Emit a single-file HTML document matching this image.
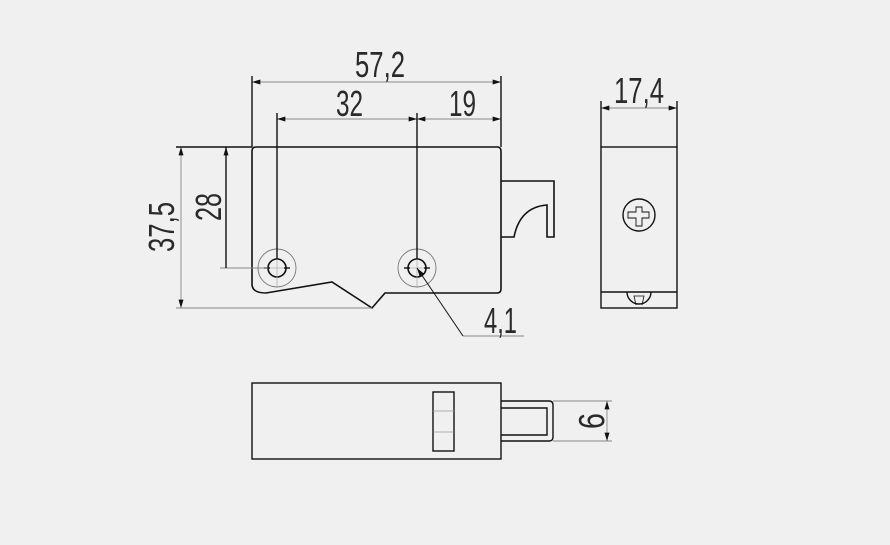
<!DOCTYPE html>
<html><head><meta charset="utf-8"><style>
html,body{margin:0;padding:0;background:#f0f0f0;}
svg{display:block;}
text{font-family:"Liberation Sans",sans-serif;fill:#2a2a2a;font-size:36px;}
</style></head><body>
<svg width="890" height="545" viewBox="0 0 890 545" xmlns="http://www.w3.org/2000/svg">
<defs>
<marker id="a" viewBox="0 0 10 6" refX="10" refY="3" markerWidth="12" markerHeight="5" orient="auto-start-reverse" markerUnits="userSpaceOnUse"><path d="M0,0L10,3L0,6z" fill="#111"/></marker>
</defs>
<g fill="none" stroke="#111" stroke-width="1.6">
<path d="M256,147 H497 Q501,147 501,151 V289 Q501,293 497,293 H385 L372,308 L332,282 L266,293 Q252,293 252,284 V151 Q252,147 256,147 Z"/>
<path d="M501,181 H554 V237 H547 V205 Q520,207 514,237 H501"/>
<circle cx="277" cy="268" r="9"/>
<circle cx="417" cy="268" r="9"/>
</g>
<g fill="none" stroke="#777" stroke-width="0.9">
<circle cx="277" cy="268" r="19"/>
<circle cx="417" cy="268" r="19"/>
</g>
<g stroke="#111" stroke-width="1.4">
<line x1="264" y1="268" x2="270" y2="268"/><line x1="284" y1="268" x2="290" y2="268"/>
<line x1="404" y1="268" x2="410" y2="268"/><line x1="424" y1="268" x2="430" y2="268"/>
</g>
<g stroke="#aaa" stroke-width="0.7">
<line x1="277" y1="259" x2="277" y2="287"/><line x1="270" y1="268" x2="284" y2="268"/>
<line x1="417" y1="259" x2="417" y2="287"/><line x1="410" y1="268" x2="424" y2="268"/>
</g>
<g stroke="#888" stroke-width="0.9" fill="none">
<line x1="252" y1="82" x2="501" y2="82" marker-start="url(#a)" marker-end="url(#a)"/>
<line x1="277" y1="119" x2="417" y2="119" marker-start="url(#a)" marker-end="url(#a)"/>
<line x1="417" y1="119" x2="501" y2="119" marker-start="url(#a)" marker-end="url(#a)"/>
<line x1="181" y1="147" x2="181" y2="308" marker-start="url(#a)" marker-end="url(#a)"/>
<line x1="176" y1="308" x2="372" y2="308"/>
<line x1="220" y1="268" x2="268" y2="268"/>
<line x1="463" y1="336" x2="524" y2="336"/>
<line x1="601" y1="108" x2="677" y2="108" marker-start="url(#a)" marker-end="url(#a)"/>
<line x1="553" y1="401" x2="612" y2="401"/>
<line x1="553" y1="441" x2="612" y2="441"/>
<line x1="607" y1="401" x2="607" y2="441" marker-start="url(#a)" marker-end="url(#a)"/>
</g>
<g stroke="#111" stroke-width="1.4" fill="none">
<line x1="252" y1="76" x2="252" y2="147"/>
<line x1="501" y1="76" x2="501" y2="147"/>
<line x1="277" y1="113" x2="277" y2="259"/>
<line x1="417" y1="113" x2="417" y2="259"/>
<line x1="176" y1="147" x2="252" y2="147"/>
<line x1="226" y1="147" x2="226" y2="268" marker-start="url(#a)"/>
<line x1="601" y1="101" x2="601" y2="147"/>
<line x1="677" y1="101" x2="677" y2="147"/>
<line x1="417" y1="268" x2="463" y2="336" stroke-width="1" marker-start="url(#a)"/>
</g>
<g fill="none" stroke="#111" stroke-width="1.4">
<rect x="601" y="147" width="76" height="161"/>
<line x1="601" y1="292" x2="677" y2="292"/>
<circle cx="639" cy="215" r="16"/>
<path d="M627,292 A12,12 0 0 0 651,292"/>
<path d="M636,305 L634,296 H644 L642,305" stroke-width="0.8"/>
<path d="M636,207 H642 V212 H649 V218 H642 V226 H636 V218 H628 V212 H636 Z" stroke-width="0.9"/>
</g>
<g fill="none" stroke="#111" stroke-width="1.4">
<rect x="252" y="383" width="249" height="76"/>
<rect x="433" y="392" width="21" height="59"/>
<path d="M501,401 H549 Q553,401 553,405 V437 Q553,441 549,441 H501"/>
<path d="M501,408 H547 V435 H501"/>
</g>
<g stroke="#999" stroke-width="0.8"><line x1="433" y1="411" x2="454" y2="411"/><line x1="433" y1="432" x2="454" y2="432"/></g>
<text x="355" y="77" textLength="50" lengthAdjust="spacingAndGlyphs">57,2</text>
<text x="336" y="116" textLength="27" lengthAdjust="spacingAndGlyphs">32</text>
<text x="449" y="116" textLength="27" lengthAdjust="spacingAndGlyphs">19</text>
<text x="484" y="333" textLength="33" lengthAdjust="spacingAndGlyphs">4,1</text>
<text x="614" y="103" textLength="50" lengthAdjust="spacingAndGlyphs">17,4</text>
<text transform="translate(174,252) rotate(-90)" x="0" y="0" textLength="50" lengthAdjust="spacingAndGlyphs">37,5</text>
<text transform="translate(221,221) rotate(-90)" x="0" y="0" textLength="28" lengthAdjust="spacingAndGlyphs">28</text>
<text transform="translate(579,413) rotate(90)" x="0" y="0" textLength="16" lengthAdjust="spacingAndGlyphs">9</text>
</svg>
</body></html>
